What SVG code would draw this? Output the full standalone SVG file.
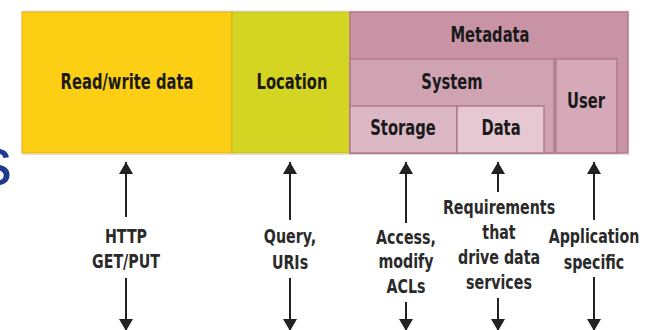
<svg xmlns="http://www.w3.org/2000/svg" width="650" height="330" viewBox="0 0 650 330">
<style>
.t{font-family:"DejaVu Sans Condensed","DejaVu Sans","Liberation Sans",sans-serif;font-weight:bold;font-size:21px;fill:#1a1a1a;text-anchor:middle;dominant-baseline:central}
.l{font-family:"DejaVu Sans Condensed","DejaVu Sans","Liberation Sans",sans-serif;font-weight:bold;font-size:20px;fill:#2a2a2a;text-anchor:middle;dominant-baseline:central}
.pk{stroke:#b07a8e;stroke-width:1.5}
.c{stroke:#222;stroke-width:2;fill:none;marker-end:url(#ah)}
</style>
<defs>
<marker id="ah" viewBox="0 0 12 14" refX="12" refY="7" markerWidth="12" markerHeight="14" markerUnits="userSpaceOnUse" orient="auto">
<path d="M0,0 L12,7 L0,14 z" fill="#222"/>
</marker>
</defs>
<rect width="650" height="330" fill="#fff"/>
<text x="-22" y="185" style="font-family:'Liberation Sans',sans-serif;font-size:68px;fill:#1f3a8f">s</text>
<line x1="22" y1="11" x2="630" y2="11" stroke="#ddd" stroke-width="1"/>
<line x1="22" y1="154.5" x2="630" y2="154.5" stroke="#ddd" stroke-width="1"/>
<g id="readwrite">
<rect x="22" y="12" width="210" height="141" fill="#fccf14" stroke="#e9ac10" stroke-width="1"/>
<text class="t" transform="translate(127,82) scale(0.78,1)">Read/write data</text>
</g>
<g id="location">
<rect x="232" y="12" width="118" height="141" fill="#d4d423" stroke="#c9b720" stroke-width="1"/>
<text class="t" transform="translate(292,82) scale(0.78,1)">Location</text>
</g>
<g id="metadata">
<rect x="350" y="12" width="278" height="141" fill="#c993a6" class="pk"/>
<text class="t" transform="translate(490,35) scale(0.78,1)">Metadata</text>
</g>
<g id="system">
<rect x="350" y="59" width="204" height="94" fill="#d0a3b3" class="pk"/>
<text class="t" transform="translate(452,82) scale(0.78,1)">System</text>
</g>
<g id="storage">
<rect x="350" y="106" width="107" height="47" fill="#dcb7c4" class="pk"/>
<text class="t" transform="translate(403,128) scale(0.78,1)">Storage</text>
</g>
<g id="data">
<rect x="457" y="106" width="87" height="47" fill="#e5c8d1" class="pk"/>
<text class="t" transform="translate(501,128) scale(0.78,1)">Data</text>
</g>
<g id="user">
<rect x="556" y="59" width="61" height="94" fill="#d5a9b8" class="pk"/>
<text class="t" transform="translate(586,101) scale(0.78,1)">User</text>
</g>
<g id="connectors">
<line class="c" x1="126" y1="217" x2="126" y2="162"/>
<line class="c" x1="126" y1="278" x2="126" y2="331"/>
<line class="c" x1="290" y1="220" x2="290" y2="162"/>
<line class="c" x1="290" y1="278" x2="290" y2="331"/>
<line class="c" x1="406" y1="223" x2="406" y2="162"/>
<line class="c" x1="406" y1="302" x2="406" y2="331"/>
<line class="c" x1="498" y1="192" x2="498" y2="162"/>
<line class="c" x1="498" y1="298" x2="498" y2="331"/>
<line class="c" x1="594" y1="220" x2="594" y2="162"/>
<line class="c" x1="594" y1="277" x2="594" y2="331"/>
</g>
<g id="labels">
<text class="l" transform="translate(126,236) scale(0.79,1)">HTTP</text>
<text class="l" transform="translate(126,261) scale(0.79,1)">GET/PUT</text>
<text class="l" transform="translate(290,236) scale(0.79,1)">Query,</text>
<text class="l" transform="translate(290,262) scale(0.79,1)">URIs</text>
<text class="l" transform="translate(406,237) scale(0.79,1)">Access,</text>
<text class="l" transform="translate(406,261) scale(0.79,1)">modify</text>
<text class="l" transform="translate(406,286) scale(0.79,1)">ACLs</text>
<text class="l" transform="translate(499,207) scale(0.79,1)">Requirements</text>
<text class="l" transform="translate(499,232) scale(0.79,1)">that</text>
<text class="l" transform="translate(499,257) scale(0.79,1)">drive data</text>
<text class="l" transform="translate(499,282) scale(0.79,1)">services</text>
<text class="l" transform="translate(594,236) scale(0.79,1)">Application</text>
<text class="l" transform="translate(594,262) scale(0.79,1)">specific</text>
</g>
</svg>
